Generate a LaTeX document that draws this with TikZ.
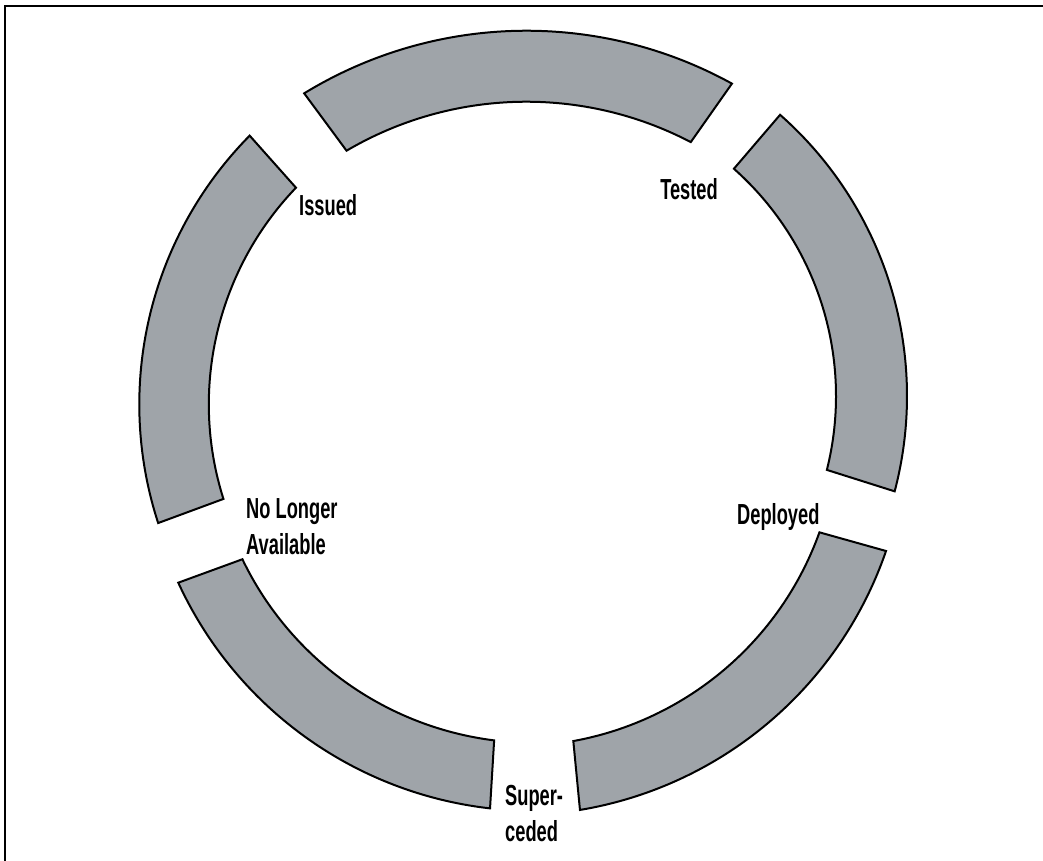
\documentclass[tikz,border=0pt]{standalone}
\usepackage{fontspec}
\newfontfamily\labelfont[FakeStretch=0.63]{Liberation Sans Bold}
\definecolor{bandgray}{RGB}{159,164,169}
% one ring segment: centre x, centre y, outer radius, inner radius,
% outer start angle, outer end angle, inner start angle, inner end angle
\newcommand\ringseg[8]{%
  \draw[band] ([shift={(#5:#3)}]#1,#2) arc[start angle=#5,end angle=#6,radius=#3]
    -- ([shift={(#7:#4)}]#1,#2) arc[start angle=#7,end angle=#8,radius=#4] -- cycle;}
\begin{document}
\begin{tikzpicture}[x=1pt,y=-1pt,
  band/.style={draw=black,line width=2pt,fill=bandgray,line join=miter},
  lbl/.style={font=\labelfont\fontsize{29}{36.5}\selectfont,inner sep=0pt,align=left},
  frameline/.style={line width=1.6pt}]
\useasboundingbox (0,0) rectangle (1043,861);
% frame
\draw[frameline] (5,861) -- (5,6) -- (1043,6);
% ring segments
\ringseg{526.4}{456.4}{425.7}{354.7}{-121.47}{-61.13}{-62.39}{-120.47}
\ringseg{532}{396}{375}{304}{-48.58}{14.73}{14.07}{-48.38}
\ringseg{515.4}{423.3}{392}{323}{19.01}{80.52}{79.67}{19.73}
\ringseg{534.4}{418.9}{392}{324}{96.5}{155.3}{154.33}{97.14}
\ringseg{521.8}{404.4}{382.5}{313}{161.93}{224.64}{223.82}{162.42}
% stage labels (base anchor of a two-line label is its last line)
\node[lbl,anchor=base west] (issued) at (299,215) {Issued};
\node[lbl,anchor=base east] (tested) at (718,200) {Tested};
\node[lbl,anchor=base west] (deployed) at (737,524) {Deployed};
\node[lbl,anchor=base west] (superceded) at (505,841.5) {Super-\\ceded};
\node[lbl,anchor=base west] (nolonger) at (246,554.5) {No Longer\\Available};
\end{tikzpicture}
\end{document}
